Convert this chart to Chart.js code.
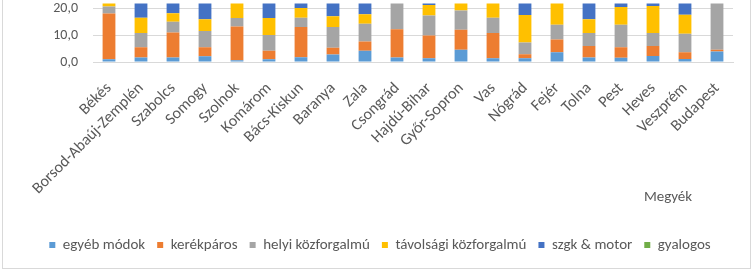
<!DOCTYPE html>
<html>
<head>
<meta charset="utf-8">
<script src="https://cdn.jsdelivr.net/npm/chart.js@4.4.1/dist/chart.umd.min.js"></script>
<style>
  html, body { margin: 0; padding: 0; background: #fff; }
  #wrap { position: relative; width: 753px; height: 271px; overflow: hidden; }
  #frame { position: absolute; left: 2px; top: -5px; width: 749px; height: 274px; border: 1px solid #d9d9d9; box-sizing: border-box; }
  canvas { position: absolute; left: 0; top: -20px; }
</style>
</head>
<body>
<div id="wrap">
  <div id="frame"></div>
  <canvas id="c" width="753" height="291"></canvas>
</div>
<script>
const categories = ["Békés","Borsod-Abaúj-Zemplén","Szabolcs","Somogy","Szolnok","Komárom","Bács-Kiskun","Baranya","Zala","Csongrád","Hajdú-Bihar","Győr-Sopron","Vas","Nógrád","Fejér","Tolna","Pest","Heves","Veszprém","Budapest"];
const egyebModok   = [1.0, 1.7, 1.7, 2.2, 0.7, 1.0, 1.8, 2.8, 4.2, 1.7, 1.4, 4.6, 1.4, 1.4, 3.7, 1.7, 1.6, 2.3, 1.1, 4.0];
const kerekparos   = [17.3, 3.9, 9.4, 3.4, 12.7, 3.2, 11.4, 2.6, 3.5, 10.6, 8.6, 7.5, 9.5, 1.5, 4.8, 4.3, 4.0, 3.7, 2.6, 0.6];
const helyiKozf    = [2.6, 5.3, 4.1, 6.1, 3.2, 6.0, 3.5, 7.8, 6.7, 15.0, 7.5, 7.3, 5.8, 4.4, 5.5, 4.9, 8.4, 4.9, 6.9, 40.0];
const tavolsagiKozf= [4.5, 5.8, 3.2, 4.4, 7.0, 6.4, 3.6, 4.0, 3.6, 4.0, 4.0, 5.0, 7.0, 10.4, 10.0, 5.2, 6.7, 10.2, 7.2, 1.0];
const szgkMotor    = [40.0, 45.0, 42.0, 44.0, 40.0, 45.0, 42.0, 46.0, 44.0, 38.0, 42.0, 45.0, 40.0, 44.0, 46.0, 45.0, 48.0, 42.0, 46.0, 30.0];
const gyalogos     = [34.6, 38.3, 39.6, 39.9, 36.4, 38.4, 37.7, 36.8, 38.0, 30.7, 36.5, 30.6, 36.3, 38.3, 30.0, 38.9, 31.3, 36.9, 36.2, 24.4];
const yTicks = [0, 10, 20];

const seriesNames = ["egyéb módok","kerékpáros","helyi közforgalmú","távolsági közforgalmú","szgk & motor","gyalogos"];
const seriesData = [egyebModok, kerekparos, helyiKozf, tavolsagiKozf, szgkMotor, gyalogos];
const seriesColors = ["#5B9BD5","#ED7D31","#A5A5A5","#FFC000","#4472C4","#70AD47"];

const FONT = "Carlito, Lato, 'Open Sans', sans-serif";
const TXT = "#595959";

const axisTitlePlugin = {
  id: 'axisTitle',
  afterDraw(chart) {
    const ctx = chart.ctx;
    ctx.save();
    ctx.font = "15px " + FONT;
    ctx.fillStyle = TXT;
    ctx.textAlign = 'center';
    ctx.textBaseline = 'middle';
    ctx.fillText("Megyék", 668, 217);
    ctx.restore();
  }
};

new Chart(document.getElementById('c'), {
  type: 'bar',
  data: {
    labels: categories,
    datasets: seriesNames.map((n, i) => ({
      label: n,
      data: seriesData[i],
      backgroundColor: seriesColors[i],
      borderWidth: 0,
      barPercentage: 0.4,
      categoryPercentage: 1.0
    }))
  },
  options: {
    responsive: false,
    animation: false,
    devicePixelRatio: 1,
    layout: { padding: { left: 27, right: 20, top: 0, bottom: 8.5 }, autoPadding: false },
    plugins: {
      legend: {
        position: 'bottom',
        labels: {
          boxWidth: 6, boxHeight: 6, padding: 12,
          color: TXT,
          font: { family: FONT, size: 15 }
        }
      },
      tooltip: { enabled: false }
    },
    scales: {
      x: {
        stacked: true,
        grid: { display: false },
        border: { display: true, color: '#d9d9d9' },
        ticks: {
          autoSkip: false, minRotation: 45, maxRotation: 45,
          color: TXT, font: { family: FONT, size: 16 }, padding: 9
        },
        afterFit: s => { s.height = 163.5; }
      },
      y: {
        stacked: true,
        min: 0,
        max: 22.07,
        afterBuildTicks: s => { s.ticks = yTicks.map(v => ({ value: v })); },
        grid: { color: '#d9d9d9', drawTicks: false },
        border: { display: false },
        ticks: {
          color: TXT, font: { family: FONT, size: 14 }, padding: 15,
          callback: v => Number(v).toFixed(1).replace('.', ',')
        },
        afterFit: s => { s.width = 66; }
      }
    }
  },
  plugins: [axisTitlePlugin]
});
</script>
</body>
</html>
